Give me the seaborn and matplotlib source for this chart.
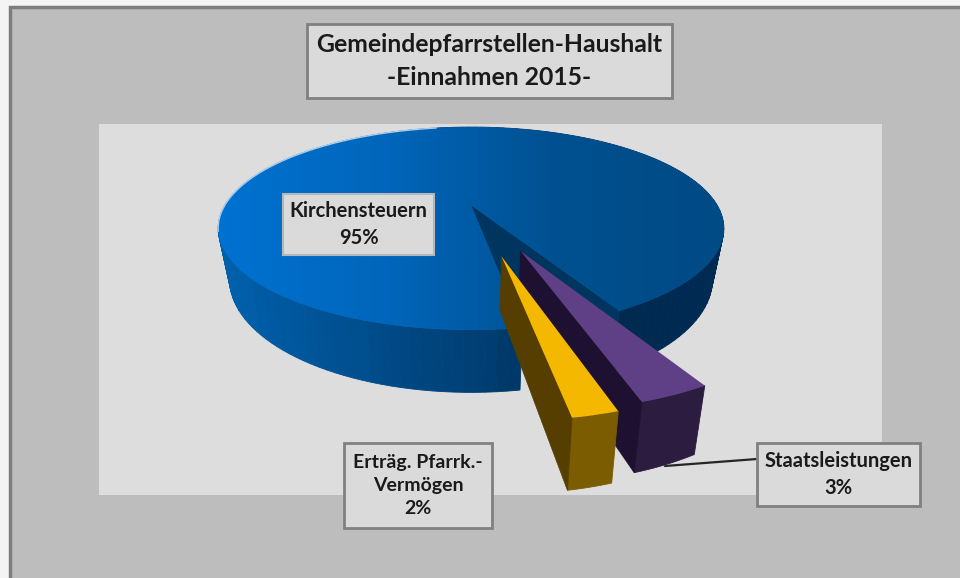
import numpy as np
import seaborn as sns
from matplotlib import pyplot as plt
from matplotlib.patches import Rectangle
from matplotlib.transforms import Transform

slice_labels = ["Kirchensteuern", "Erträg. Pfarrk.-\nVermögen", "Staatsleistungen"]
slice_values = [94.6, 2.1, 3.3]
slice_explode = [0, 0.49, 0.47]
title_lines = ["Gemeindepfarrstellen-Haushalt", "-Einnahmen 2015-"]

# tilted disc, unit pie coords -> pixels
CX, CY = 471, 205
SCALE_X, SCALE_Y, TILT, DEPTH, SHRINK = 246, 96, 0.2315, 48, 0.045


def project(x, y, z=0.0):
    w = 1 + TILT * y
    return CX + SCALE_X * x * (1 - SHRINK * z) / w, CY - (SCALE_Y * y - DEPTH * z) / w


class TiltTransform(Transform):
    input_dims = 2
    output_dims = 2

    def transform_non_affine(self, values):
        px, py = project(values[:, 0], values[:, 1])
        return np.column_stack([px, py])


def arc_points(wedge, t1, t2, n):
    t = np.radians(np.linspace(t1, t2, n))
    return wedge.center[0] + wedge.r * np.cos(t), wedge.center[1] + wedge.r * np.sin(t)


def fill_quad(ax, x, y, color, zorder):
    # wall between top face and bottom face along x, y
    tx, ty = project(x, y, 0)
    bx, by = project(x, y, 1)
    ax.fill(np.r_[tx, bx[::-1]], np.r_[ty, by[::-1]], color=color, lw=0.6, zorder=zorder)


def label_box(ax, x0, y0, x1, y1, text, size, edge="#808080", lw=2.0, spacing=1.45):
    ax.add_patch(Rectangle((x0, y0), x1 - x0, y1 - y0, fc="#dadada", ec=edge, lw=lw, zorder=20))
    ax.text((x0 + x1) / 2, (y0 + y1) / 2, text, ha="center", va="center", fontsize=size,
            fontweight="bold", color="#1a1a1a", linespacing=spacing, zorder=21)


sns.set_theme(style="white")
plt.rcParams["font.family"] = ["Lato", "DejaVu Sans"]

fig = plt.figure(figsize=(9.6, 5.78), dpi=100, facecolor="#f4f4f4")
ax = fig.add_axes([0, 0, 1, 1])

wedges, _ = ax.pie(slice_values, explode=slice_explode, startangle=-61.3,
                   colors=["#0060b0", "#f4b800", "#5f3f85"])
main, yellow, purple = wedges
tilt = TiltTransform() + ax.transData
for w in wedges:
    w.set_transform(tilt)
    w.set_linewidth(0)

ax.set_aspect("auto")
ax.set_xlim(0, 960)
ax.set_ylim(578, 0)
ax.axis("off")

ax.add_patch(Rectangle((10, 7), 960, 600, fc="#bdbdbd", ec="#7d7d7d", lw=2.5, zorder=-3))
ax.add_patch(Rectangle((99, 124), 783, 371, fc="#dddddd", ec="none", zorder=-2))

# main slice: rim shaded by position, then cut face, then top face
wall_pal = sns.blend_palette(["#0060ac", "#004f90", "#003f74", "#002a50", "#002a52"], n_colors=60)
rim_t = np.arange(main.theta1, main.theta2, 2.0)
rim_t = np.r_[rim_t, main.theta2]
for t1, t2 in zip(rim_t[:-1], rim_t[1:]):
    x, y = arc_points(main, t1, t2, 4)
    px = project(x.mean(), y.mean())[0]
    idx = int(np.clip((px - 217) / 507 * 59, 0, 59))
    fill_quad(ax, x, y, wall_pal[idx], 1)
x, y = arc_points(main, main.theta1, main.theta1, 1)
fill_quad(ax, np.r_[main.center[0], x], np.r_[main.center[1], y], "#00355f", 2)

main.set_zorder(3)
top_cmap = sns.blend_palette(["#0072d2", "#0066bb", "#00508f", "#004a85"], as_cmap=True)
im = ax.imshow(np.linspace(0, 1, 256)[None, :], extent=(215, 730, 335, 120), aspect="auto",
               cmap=top_cmap, zorder=4)
im.set_clip_path(main)
ax.set_xlim(0, 960)
ax.set_ylim(578, 0)

# thin highlight on the back left rim
x, y = arc_points(main, 100, 195, 60)
hx, hy = project(x, y)
ax.plot(hx, hy, color="#a9cdf0", lw=1.0, zorder=5)

# exploded slices, purple behind yellow
for w, rim, cut, z in [(purple, "#2c1c3f", "#1d1030", 6), (yellow, "#7c5c00", "#553e00", 9)]:
    x2, y2 = arc_points(w, w.theta1, w.theta2, 12)
    fill_quad(ax, x2, y2, rim, z)
    x3, y3 = arc_points(w, w.theta1, w.theta1, 1)
    fill_quad(ax, np.r_[w.center[0], x3], np.r_[w.center[1], y3], cut, z)
    w.set_zorder(z + 1)

ax.plot([665, 757], [466, 459], color="#262626", lw=1.6, zorder=15)

label_box(ax, 307, 24, 672, 98, "\n".join(title_lines), 17.8, spacing=1.55)
label_box(ax, 283, 194, 434, 255, f"{slice_labels[0]}\n{slice_values[0]:.0f}%", 14.5, edge="#b4b8bc", lw=1.5)
label_box(ax, 344, 443, 492, 528, f"{slice_labels[1]}\n{slice_values[1]:.0f}%", 14)
label_box(ax, 757, 443, 920, 506, f"{slice_labels[2]}\n{slice_values[2]:.0f}%", 14.5)

fig.savefig("out.png", dpi=100)
